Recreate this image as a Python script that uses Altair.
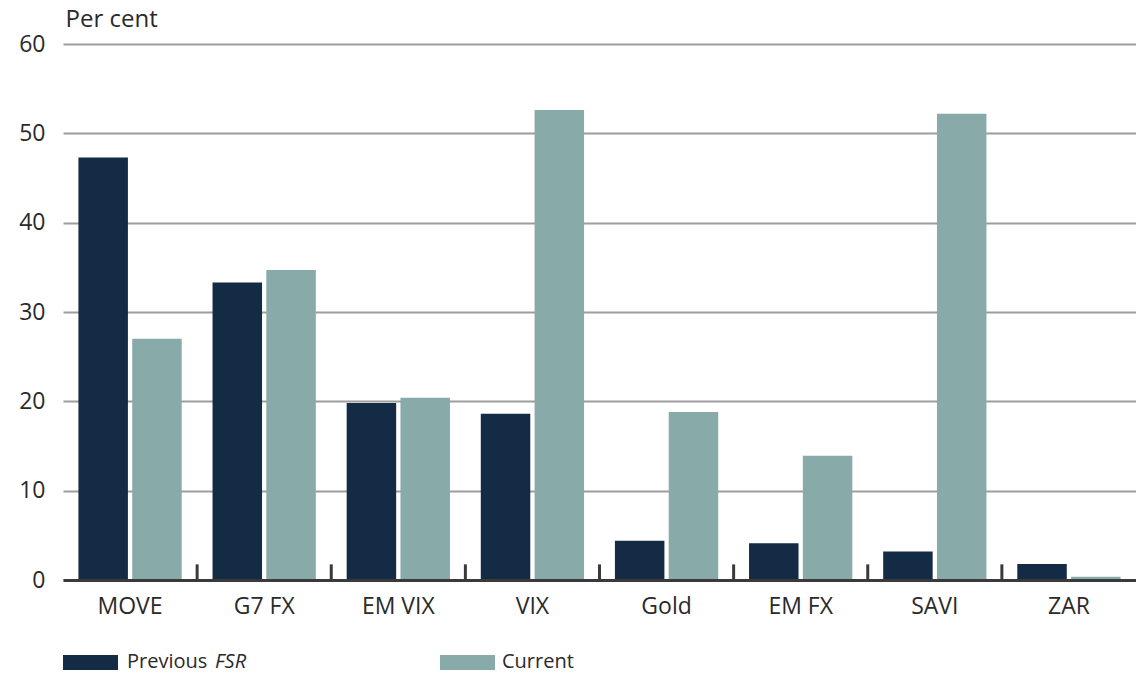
import altair as alt
import pandas as pd

categories = ["MOVE", "G7 FX", "EM VIX", "VIX", "Gold", "EM FX", "SAVI", "ZAR"]
previous = [47.3, 33.3, 19.8, 18.6, 4.4, 4.1, 3.2, 1.8]
current = [27.0, 34.7, 20.4, 52.6, 18.8, 13.9, 52.2, 0.35]
series = ["Previous FSR", "Current"]
colors = ["#132b45", "#88aaa9"]
y_ticks = [0, 10, 20, 30, 40, 50, 60]

rows = []
for c, p, q in zip(categories, previous, current):
    rows.append({"cat": c, "series": series[0], "value": p})
    rows.append({"cat": c, "series": series[1], "value": q})
df = pd.DataFrame(rows)

FONT = "Open Sans"
TXT = "#2a2a2a"
W, H = 1073, 536

bars = alt.Chart(df).mark_bar().encode(
    x=alt.X("cat:N", sort=categories,
            scale=alt.Scale(paddingInner=0.23, paddingOuter=0.115),
            axis=alt.Axis(title=None, labelFont=FONT, labelFontSize=23, labelColor=TXT,
                          labelPadding=15, labelAngle=0, domain=True, domainColor="#3a3a3a",
                          domainWidth=3, ticks=False, grid=False, zindex=1)),
    xOffset=alt.XOffset("series:N", sort=series, scale=alt.Scale(paddingInner=0.08)),
    y=alt.Y("value:Q", scale=alt.Scale(domain=[0, 60]),
            axis=alt.Axis(values=y_ticks, title="Per cent", titleAngle=0, titleAlign="left",
                          titleBaseline="middle", titleX=2, titleY=-25, titleFont=FONT,
                          titleFontSize=24, titleFontWeight="normal", titleColor=TXT,
                          labelFont=FONT, labelFontSize=23, labelColor=TXT, labelPadding=18,
                          domain=False, ticks=False, gridColor="#9d9d9d", gridWidth=2)),
    color=alt.Color("series:N", scale=alt.Scale(domain=series, range=colors), legend=None),
)

sep = alt.Chart(pd.DataFrame({"cat": categories[1:]})).mark_rule(
    color="#3a3a3a", strokeWidth=3
).encode(
    x=alt.X("cat:N", sort=categories, bandPosition=0,
            scale=alt.Scale(domain=categories, paddingInner=0, paddingOuter=0), axis=None),
    y=alt.datum(0),
    y2=alt.datum(1.75),
)

one = pd.DataFrame({"k": [0]})
leg_rect1 = alt.Chart(one).mark_rect(color=colors[0]).encode(
    x=alt.value(0), x2=alt.value(55), y=alt.value(611), y2=alt.value(626))
leg_rect2 = alt.Chart(one).mark_rect(color=colors[1]).encode(
    x=alt.value(377), x2=alt.value(432), y=alt.value(611), y2=alt.value(626))
leg_t1 = alt.Chart(pd.DataFrame({"t": ["Previous"]})).mark_text(
    font=FONT, fontSize=20, color=TXT, align="left", baseline="middle").encode(
    text="t:N", x=alt.value(64), y=alt.value(618))
leg_t2 = alt.Chart(pd.DataFrame({"t": ["FSR"]})).mark_text(
    font=FONT, fontSize=20, color=TXT, align="left", baseline="middle", fontStyle="italic").encode(
    text="t:N", x=alt.value(152), y=alt.value(618))
leg_t3 = alt.Chart(pd.DataFrame({"t": ["Current"]})).mark_text(
    font=FONT, fontSize=20, color=TXT, align="left", baseline="middle").encode(
    text="t:N", x=alt.value(439), y=alt.value(618))

chart = alt.layer(bars, sep, leg_rect1, leg_rect2, leg_t1, leg_t2, leg_t3).resolve_scale(
    x="independent"
).properties(
    width=W, height=H,
    background="white",
    padding={"left": 63, "top": 44, "right": 0, "bottom": 95},
    autosize=alt.AutoSizeParams(type="none"),
).configure_view(stroke=None, strokeWidth=0)

chart.save("out.html", embed_options={"renderer": "svg", "actions": False})
